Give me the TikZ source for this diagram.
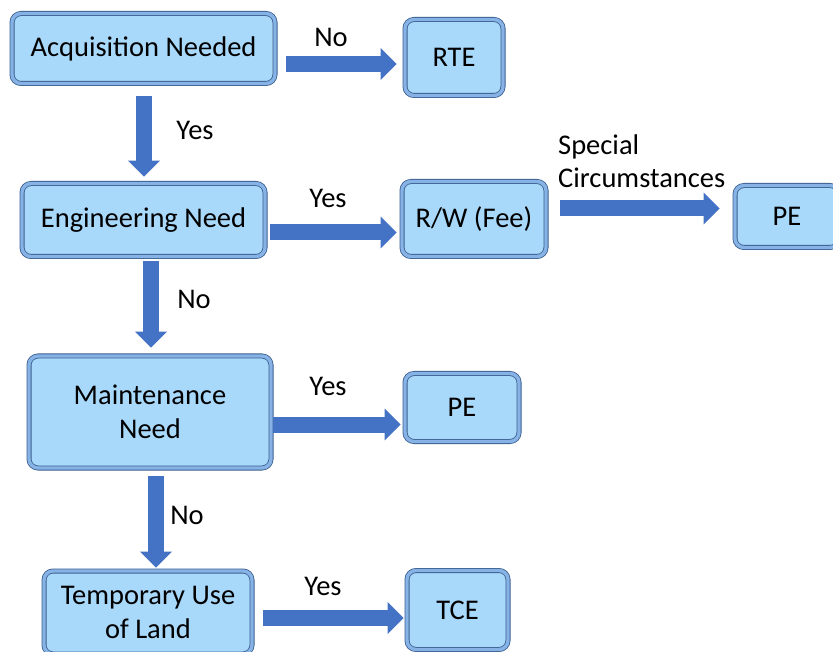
\documentclass[tikz,border=0pt]{standalone}
\usepackage{fontspec}
\setmainfont{Carlito}
\usetikzlibrary{arrows.meta,calc}
\definecolor{boxfill}{HTML}{A8D8FA}
\definecolor{bevel}{HTML}{86B2E6}
\definecolor{edgedark}{HTML}{3A5F8E}
\definecolor{arrowblue}{HTML}{4472C4}
\begin{document}
\begin{tikzpicture}[x=1pt,y=-1pt,
  box/.style={rounded corners=9pt, fill=boxfill, draw=edgedark, line width=0.8pt,
    double=bevel, double distance=3.4pt, inner sep=0pt, align=center,
    font=\fontsize{28.5}{34}\selectfont},
  lbl/.style={inner sep=0pt, align=left, font=\fontsize{28.5}{33}\selectfont},
  blk/.style={draw=arrowblue, line width=16pt, -{Triangle[width=31pt,length=16pt]}}]
\useasboundingbox (0,0) rectangle (833,652);
\fill[white] (0,0) rectangle (833,652);
% boxes
\node[box, minimum width=263pt, minimum height=70pt] (acq) at (143.5,48.5) {Acquisition Needed};
\node[box, minimum width=98pt, minimum height=76pt] (rte) at (454,57.5) {RTE};
\node[box, minimum width=243pt, minimum height=73pt] (eng) at (143.5,220) {Engineering Need};
\node[box, minimum width=144pt, minimum height=75pt] (rw) at (474,219) {R/W (Fee)};
\node[box, minimum width=104pt, minimum height=62pt] (pe1) at (787,216.5) {PE};
\node[box, minimum width=242pt, minimum height=112pt] (maint) at (150,412) {Maintenance\\Need};
\node[box, minimum width=114pt, minimum height=68pt] (pe2) at (462,407.5) {PE};
\node[box, minimum width=208pt, minimum height=83pt] (temp) at (148,612.5) {Temporary Use\\of Land};
\node[box, minimum width=101pt, minimum height=79pt] (tce) at (457.5,610) {TCE};
% labels
\node[lbl] (l1) at (331,37) {No};
\node[lbl] (l2) at (195,130) {Yes};
\node[lbl] (l3) at (328,198) {Yes};
\node[lbl, anchor=west] (l4) at (558,161) {Special\\Circumstances};
\node[lbl] (l5) at (194,299) {No};
\node[lbl] (l6) at (328,386) {Yes};
\node[lbl] (l7) at (187,515) {No};
\node[lbl] (l8) at (323,586) {Yes};
% arrows
\draw[blk] ($(acq.east)+(11,15.5)$) -- ($(rte.west)+(-8,6.5)$);
\draw[blk] ($(acq.south)+(0.5,12.5)$) -- ($(eng.north)+(0.5,-6.5)$);
\draw[blk] ($(eng.east)+(5,12.5)$) -- ($(rw.west)+(-5,13.5)$);
\draw[blk] ($(rw.east)+(14,-10.5)$) -- ($(pe1.west)+(-15,-8)$);
\draw[blk] ($(eng.south)+(7.5,4.5)$) -- ($(maint.north)+(1,-8)$);
\draw[blk] ($(maint.east)+(2,12.5)$) -- ($(pe2.west)+(-4,17)$);
\draw[blk] ($(maint.south)+(6,8)$) -- ($(temp.north)+(8,-3)$);
\draw[blk] ($(temp.east)+(11,5.5)$) -- ($(tce.west)+(-3,8)$);
\end{tikzpicture}
\end{document}
